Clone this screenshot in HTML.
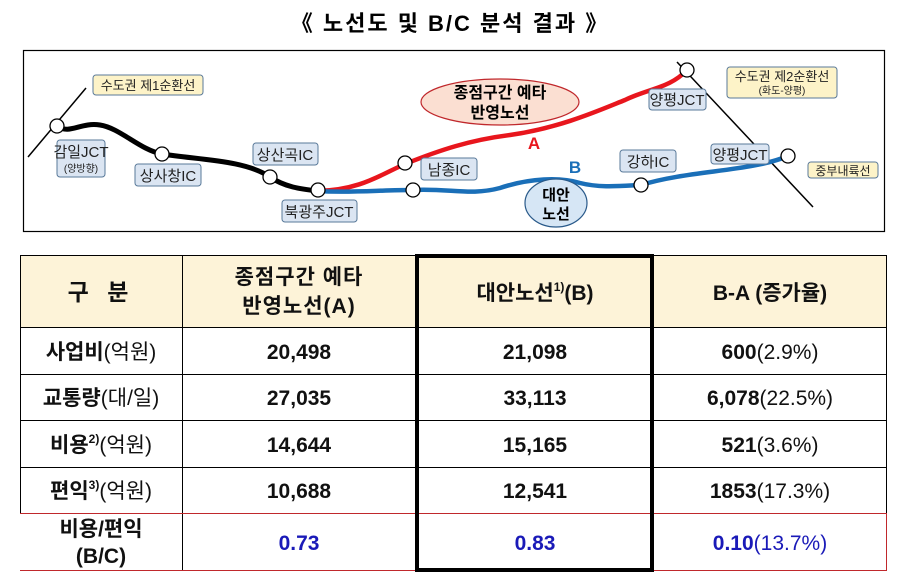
<!DOCTYPE html>
<html><head><meta charset="utf-8"><style>
body{margin:0;background:#fff;width:899px;height:581px;overflow:hidden}
svg text{font-family:"Liberation Sans","Noto Sans CJK KR",sans-serif}
</style></head><body>
<svg width="899" height="581" viewBox="0 0 899 581" xmlns="http://www.w3.org/2000/svg">
<text x="450" y="31" font-size="22" font-weight="bold" text-anchor="middle" letter-spacing="2">《 노선도 및 B/C 분석 결과 》</text>
<rect x="23.5" y="50.5" width="861" height="181" fill="#fff" stroke="#000" stroke-width="1.2"/>
<line x1="28" y1="157" x2="86" y2="88" stroke="#000" stroke-width="1.5"/>
<line x1="677" y1="62" x2="813" y2="207" stroke="#000" stroke-width="1.5"/>
<path d="M57,126 C70,135 80,122 100,125 C120,128 140,150 162,154 C200,160 245,160 270,177 C285,187 300,189 318,191" fill="none" stroke="#000" stroke-width="5"/>
<path d="M318,191 C360,190 380,175 405,164 C440,150 470,140 510,135 C560,128 600,110 625,100 C650,88 670,88 687,70" fill="none" stroke="#e8161d" stroke-width="4.5"/>
<path d="M318,191 C350,193 380,190 412,190 C450,188 470,196 500,188 C530,178 560,177 580,183 C600,188 620,186 641,185 C690,170 750,172 788,156" fill="none" stroke="#1a6fb8" stroke-width="4.5"/>
<g fill="#fff" stroke="#000" stroke-width="1.3">
<circle cx="57" cy="126" r="7"/><circle cx="162" cy="154" r="7"/><circle cx="270" cy="177" r="7"/><circle cx="318" cy="190" r="7"/>
<circle cx="405" cy="163" r="7"/><circle cx="413" cy="190" r="7"/><circle cx="641" cy="185" r="7"/><circle cx="687" cy="70" r="7"/><circle cx="788" cy="156" r="7"/>
</g>
<ellipse cx="500" cy="102" rx="79" ry="23" fill="#fbdfd2" stroke="#c0282c" stroke-width="1.2"/>
<text x="500" y="98" font-size="16" font-weight="bold" text-anchor="middle">종점구간 예타</text>
<text x="500" y="118" font-size="16" font-weight="bold" text-anchor="middle">반영노선</text>
<ellipse cx="556" cy="203" rx="31" ry="24" fill="#d6e6f5" stroke="#2a5a8a" stroke-width="1.2"/>
<text x="556" y="200" font-size="15" font-weight="bold" text-anchor="middle">대안</text>
<text x="556" y="219" font-size="15" font-weight="bold" text-anchor="middle">노선</text>
<text x="534" y="149" font-size="17" font-weight="bold" fill="#e8161d" text-anchor="middle">A</text>
<text x="575" y="173" font-size="17" font-weight="bold" fill="#1a6fb8" text-anchor="middle">B</text>
<g stroke="#5a7a9a" stroke-width="1">
<rect x="93" y="75" width="110" height="20" rx="3" fill="#fdf3c8"/>
<rect x="57" y="140" width="48" height="37" rx="3" fill="#dbe5f2"/>
<rect x="135" y="164" width="66" height="22" rx="3" fill="#dbe5f2"/>
<rect x="253" y="143" width="65" height="22" rx="3" fill="#dbe5f2"/>
<rect x="282" y="200" width="75" height="22" rx="3" fill="#dbe5f2"/>
<rect x="421" y="158" width="56" height="22" rx="3" fill="#dbe5f2"/>
<rect x="620" y="150" width="56" height="22" rx="3" fill="#dbe5f2"/>
<rect x="649" y="89" width="57" height="21" rx="3" fill="#dbe5f2"/>
<rect x="711" y="144" width="58" height="20" rx="3" fill="#dbe5f2"/>
<rect x="727" y="67" width="110" height="31" rx="3" fill="#fdf3c8"/>
<rect x="808" y="162" width="70" height="16" rx="3" fill="#fdf3c8"/>
</g>
<g font-size="13" fill="#222" text-anchor="middle">
<text x="148" y="90">수도권 제1순환선</text>
<text x="81" y="157" font-size="15">감일JCT</text>
<text x="81" y="172" font-size="10">(양방향)</text>
<text x="168" y="181" font-size="15">상사창IC</text>
<text x="285" y="160" font-size="15">상산곡IC</text>
<text x="319" y="217" font-size="15">북광주JCT</text>
<text x="449" y="175" font-size="15">남종IC</text>
<text x="648" y="167" font-size="15">강하IC</text>
<text x="677" y="105" font-size="15">양평JCT</text>
<text x="740" y="160" font-size="15">양평JCT</text>
<text x="782" y="81">수도권 제2순환선</text>
<text x="782" y="94" font-size="10">(화도-양평)</text>
<text x="843" y="175" font-size="12">중부내륙선</text>
</g>
<rect x="20" y="255" width="867" height="72" fill="#fdf3d8"/>
<g stroke="#000" stroke-width="1">
<line x1="20" y1="255.5" x2="887" y2="255.5"/>
<line x1="20" y1="327.5" x2="887" y2="327.5"/>
<line x1="20" y1="374.5" x2="887" y2="374.5"/>
<line x1="20" y1="420.5" x2="887" y2="420.5"/>
<line x1="20" y1="467.5" x2="887" y2="467.5"/>
<line x1="20.5" y1="255" x2="20.5" y2="513"/>
<line x1="182.5" y1="255" x2="182.5" y2="570"/>
<line x1="886.5" y1="255" x2="886.5" y2="513"/>
</g>
<g stroke="#c0282c" stroke-width="1">
<line x1="20" y1="513.5" x2="887" y2="513.5"/>
<line x1="20" y1="570.5" x2="887" y2="570.5"/>
<line x1="886.5" y1="513" x2="886.5" y2="570"/>
</g>
<rect x="417" y="256" width="235" height="314" fill="none" stroke="#000" stroke-width="4"/>
<g font-size="21" font-weight="bold" text-anchor="middle" fill="#111">
<text x="101" y="300" font-size="23" letter-spacing="6">구 분</text>
<text x="299" y="284" letter-spacing="1">종점구간 예타</text>
<text x="299" y="313" letter-spacing="1">반영노선(A)</text>
<text x="535" y="300">대안노선<tspan font-size="12" dy="-9">1)</tspan><tspan dy="9">(B)</tspan></text>
<text x="770" y="300">B-A  (증가율)</text>
<text x="101" y="359">사업비<tspan font-weight="normal">(억원)</tspan></text>
<text x="101" y="405">교통량<tspan font-weight="normal">(대/일)</tspan></text>
<text x="101" y="452">비용<tspan font-size="12" dy="-9">2)</tspan><tspan font-weight="normal" dy="9">(억원)</tspan></text>
<text x="101" y="498">편익<tspan font-size="12" dy="-9">3)</tspan><tspan font-weight="normal" dy="9">(억원)</tspan></text>
<text x="101" y="536">비용/편익</text>
<text x="101" y="563">(B/C)</text>
<text x="299" y="359">20,498</text><text x="535" y="359">21,098</text>
<text x="770" y="359">600<tspan font-weight="normal">(2.9%)</tspan></text>
<text x="299" y="405">27,035</text><text x="535" y="405">33,113</text>
<text x="770" y="405">6,078<tspan font-weight="normal">(22.5%)</tspan></text>
<text x="299" y="452">14,644</text><text x="535" y="452">15,165</text>
<text x="770" y="452">521<tspan font-weight="normal">(3.6%)</tspan></text>
<text x="299" y="498">10,688</text><text x="535" y="498">12,541</text>
<text x="770" y="498">1853<tspan font-weight="normal">(17.3%)</tspan></text>
<text x="299" y="550" fill="#1a1ab8">0.73</text><text x="535" y="550" fill="#1a1ab8">0.83</text>
<text x="770" y="550" fill="#1a1ab8">0.10<tspan font-weight="normal">(13.7%)</tspan></text>
</g>
</svg>
</body></html>
